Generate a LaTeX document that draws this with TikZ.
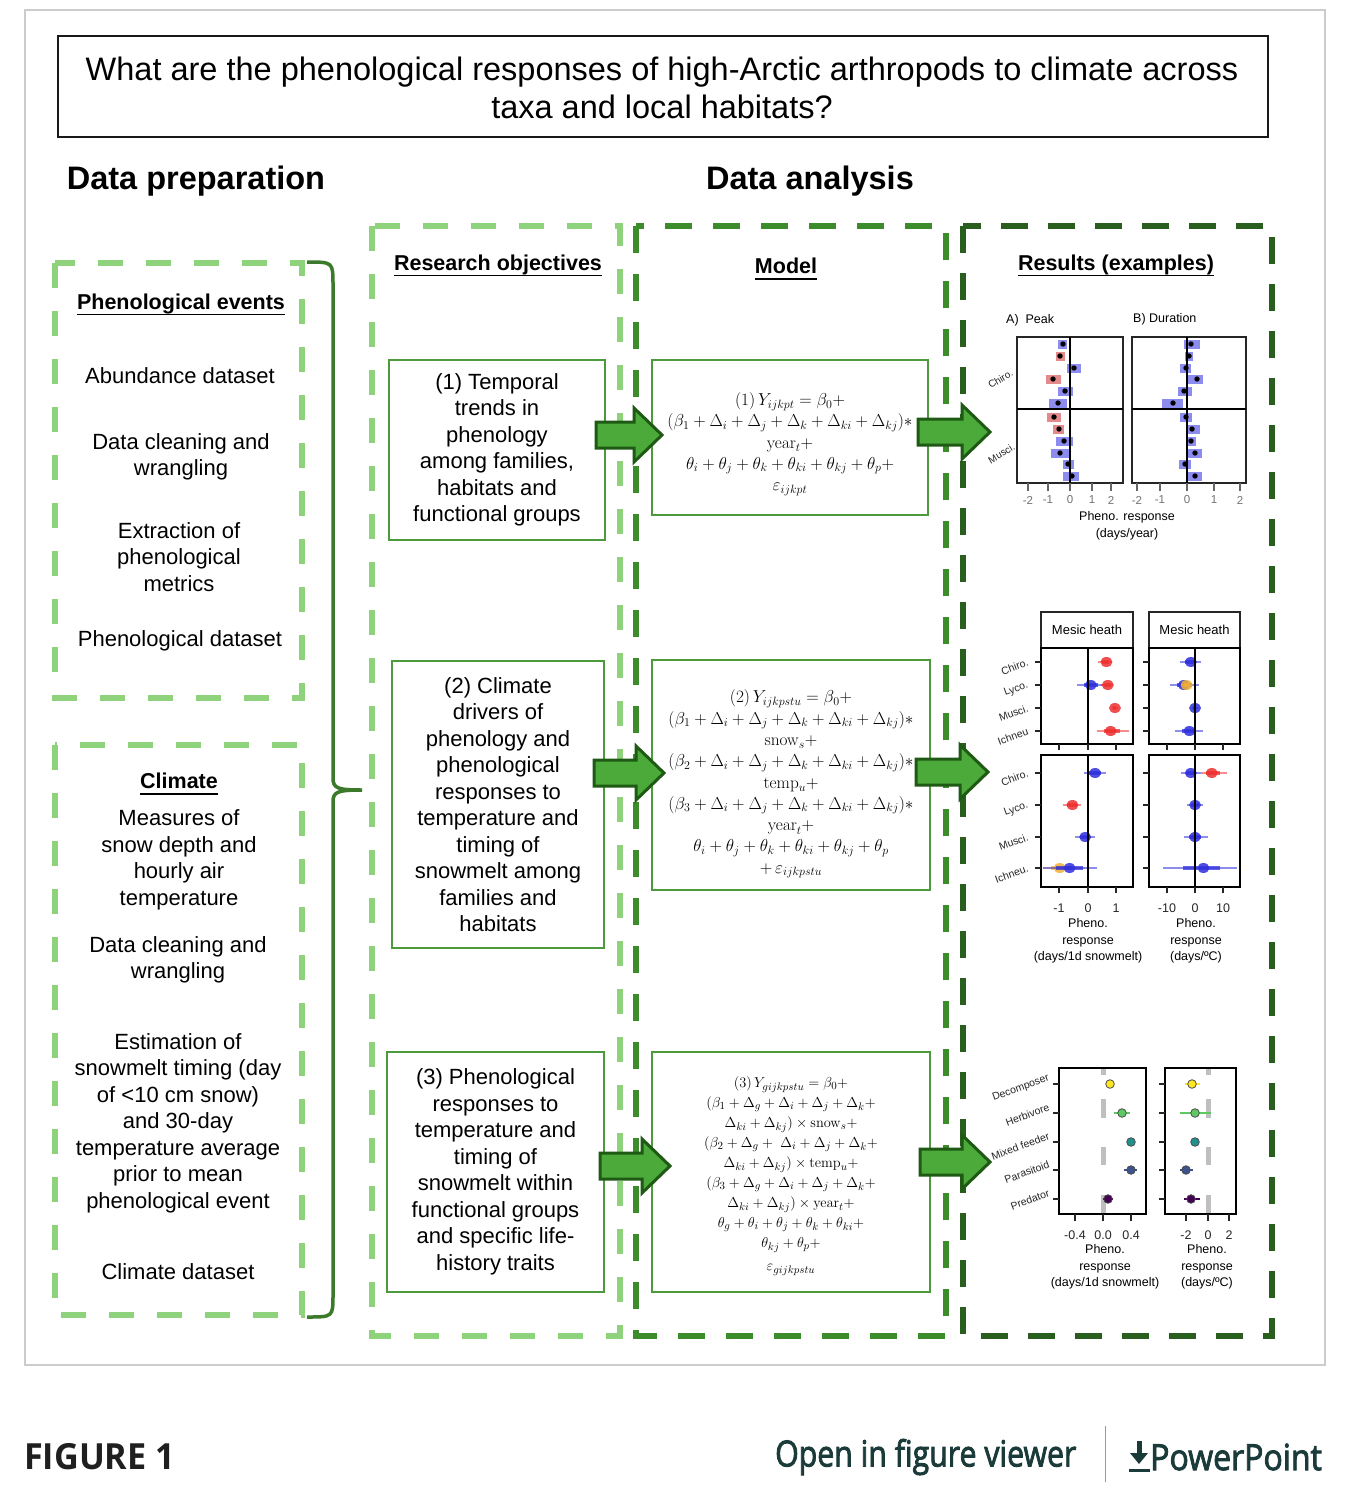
\documentclass[tikz,border=0pt]{standalone}
\usepackage[no-math]{fontspec}
\usepackage{graphicx}
\setmainfont{Liberation Sans}
\newfontfamily\osans{Open Sans}
\newfontfamily\osemi{Open Sans}[FakeBold=2.5]
\usetikzlibrary{calc}
\definecolor{lgreen}{HTML}{8ED37C}
\definecolor{mgreen}{HTML}{3C8C2C}
\definecolor{dgreen}{HTML}{2A5E1E}
\definecolor{boxgreen}{HTML}{4C9A3C}
\definecolor{bracegreen}{HTML}{3A7A2A}
\definecolor{arrowfill}{HTML}{4CAA3A}
\definecolor{arrowdraw}{HTML}{1E5A14}
\definecolor{abarblue}{HTML}{8C8CEE}
\definecolor{abarred}{HTML}{E58A8A}
\definecolor{mred}{HTML}{EE3030}
\definecolor{mblue}{HTML}{3030DD}
\definecolor{morange}{HTML}{F2B134}
\definecolor{vyel}{HTML}{FDE725}
\definecolor{vlgr}{HTML}{5EC962}
\definecolor{vteal}{HTML}{21918C}
\definecolor{vslate}{HTML}{3B528B}
\definecolor{vpurp}{HTML}{440154}
\definecolor{figtext}{HTML}{1B3A3A}
\newcommand\ulnode[1]{\draw[line width=1.8pt] ($(#1.base west)+(0,5)$) -- ($(#1.base east)+(0,5)$);}
\newcommand\blockarrow[2]{%
 \draw[bigarrow] let \p1=(#1), \p2=(#2) in
  (\x1,\y1+13pt) -- (\x2-28pt,\y1+13pt) -- (\x2-28pt,\y1+27pt) -- (\x2,\y1) --
  (\x2-28pt,\y1-27pt) -- (\x2-28pt,\y1-13pt) -- (\x1,\y1-13pt) -- cycle;}
\newcommand\abar[5]{%
 \fill[#5] (#3,#1-4.5) rectangle (#4,#1+4.5);
 \fill[black] (#2,#1) circle (2.7);}
\newcommand\mpt[7]{%
 \draw[#7, opacity=.55, line width=1.4pt] ({#2+#3*(#5)},#1) -- ({#2+#3*(#6)},#1);
 \draw[#7, opacity=.75, line width=4pt] ({#2+#3*((#4)+(#5))/2},#1) -- ({#2+#3*((#4)+(#6))/2},#1);
 \fill[#7, opacity=.85] ({#2+#3*(#4)},#1) ellipse [x radius=6, y radius=5];}
\newcommand\vpt[5]{%
 \draw[#5, line width=1.6pt] (#3,#1) -- (#4,#1);
 \filldraw[fill=#5, draw=black!70, line width=0.8pt] (#2,#1) circle (4.3);}
\begin{document}
\begin{tikzpicture}[x=1pt,y=-1pt,
  txt/.style={font=\fontsize{22}{26.5}\selectfont, align=center, inner sep=0pt},
  hdr/.style={font=\bfseries\fontsize{21.5}{26}\selectfont, inner sep=0pt},
  big/.style={font=\bfseries\fontsize{32.5}{36}\selectfont, inner sep=0pt},
  objbox/.style={draw=boxgreen, line width=2.5pt, align=center, font=\fontsize{22}{26.5}\selectfont, inner sep=0pt},
  modbox/.style={draw=boxgreen, line width=2.5pt, inner sep=0pt},
  modtxt/.style={font=\fontsize{16.4}{21.3}\selectfont, align=center, inner sep=0pt},
  col1/.style={draw=lgreen, line width=5.5pt, dash pattern=on 25pt off 23pt},
  col2/.style={draw=mgreen, line width=6pt, dash pattern=on 27pt off 21pt},
  col3/.style={draw=dgreen, line width=6.5pt, dash pattern=on 27pt off 20pt},
  bigarrow/.style={fill=arrowfill, draw=arrowdraw, line width=3pt, line join=miter},
  brace/.style={draw=bracegreen, line width=3.5pt},
  pframe/.style={draw=black!85, line width=1.3pt},
  pframeb/.style={draw=black, line width=2pt},
  zline/.style={line width=2.2pt, black},
  tk/.style={line width=1.4pt, black!85},
  tkl/.style={font=\fontsize{11.5}{13}\selectfont, inner sep=0pt, text=black!80},
  ptxt/.style={font=\fontsize{12.5}{16.5}\selectfont, inner sep=0pt, align=center},
  rlab/.style={font=\fontsize{10.5}{12}\selectfont, inner sep=0pt, rotate=20, anchor=east, text=black!85},
]
\useasboundingbox (0,0) rectangle (1370,1488);
\fill[white] (0,0) rectangle (1370,1488);
\draw[black!20, line width=1.5pt] (25,10) rectangle (1325,1365);

% title
\node[draw=black!90, line width=2pt, minimum width=1210pt, minimum height=100pt, inner sep=0pt] (title) at (663,86.5) {};
\node[font=\fontsize{32.5}{38}\selectfont, align=center, inner sep=0pt] (titletxt) at (662,88) {What are the phenological responses of high-Arctic arthropods to climate across\\taxa and local habitats?};

\node[big] (dprep) at (196,181) {Data preparation};
\node[big] (dana) at (810,181) {Data analysis};

% dashed frames
\draw[col1] (55,263) rectangle (302,698);
\draw[col1] (55,745) rectangle (302,1315);
\draw[col1] (372,226) rectangle (620,1336);
\draw[col2] (636,226) rectangle (946,1336);
\draw[col3] (963,226) rectangle (1272,1336);

% brace
\draw[brace] (307,262) .. controls (333,262) .. (333,285) -- (333,778)
  .. controls (333,788) and (337,790) .. (362,790)
  .. controls (337,790) and (333,792) .. (333,802) -- (333,1295)
  .. controls (333,1317) .. (307,1317);

% left texts
\node[hdr] (hPhen) at (181,304) {Phenological events};
\ulnode{hPhen}
\node[txt] (abund) at (180,376) {Abundance dataset};
\node[txt] (clean1) at (181,457) {Data cleaning and\\wrangling};
\node[txt] (extr) at (179,557) {Extraction of\\phenological\\metrics};
\node[txt] (phends) at (180,641) {Phenological dataset};
\node[hdr] (hClim) at (179,781) {Climate};
\ulnode{hClim}
\node[txt] (meas) at (179,860) {Measures of\\snow depth and\\hourly air\\temperature};
\node[txt] (clean2) at (178,960) {Data cleaning and\\wrangling};
\node[txt] (estim) at (178,1123) {Estimation of\\snowmelt timing (day\\of <10 cm snow)\\and 30-day\\temperature average\\prior to mean\\phenological event};
\node[txt] (climds) at (178,1272) {Climate dataset};

% column headers
\node[hdr] (hRes) at (498,265) {Research objectives};
\ulnode{hRes}
\node[hdr] (hMod) at (786,266) {Model};
\ulnode{hMod}
\node[hdr] (hRslt) at (1116,265) {Results (examples)};
\ulnode{hRslt}

% objectives
\node[objbox, minimum width=216pt, minimum height=180pt] (obj1) at (497,450) {(1) Temporal\\trends in\\phenology\\among families,\\habitats and\\functional groups};
\node[objbox, minimum width=212pt, minimum height=287pt] (obj2) at (498,804.5) {(2) Climate\\drivers of\\phenology and\\phenological\\responses to\\temperature and\\timing of\\snowmelt among\\families and\\habitats};
\node[objbox, minimum width=217pt, minimum height=240pt] (obj3) at (495.5,1172) {(3) Phenological\\responses to\\temperature and\\timing of\\snowmelt within\\functional groups\\and specific life-\\history traits};

% models
\node[modbox, minimum width=276pt, minimum height=155pt] (mod1) at (790,437.5) {};
\node[modtxt] (eq1) at (790,444) {$(1)\,Y_{ijkpt} = \beta_0 +$\\
$(\beta_1+\Delta_i+\Delta_j+\Delta_k+\Delta_{ki}+\Delta_{kj})\ast$\\
$\mathrm{year}_t +$\\
$\theta_i+\theta_j+\theta_k+\theta_{ki}+\theta_{kj}+\theta_p+$\\
$\varepsilon_{ijkpt}$};
\node[modbox, minimum width=278pt, minimum height=230pt] (mod2) at (791,775) {};
\node[modtxt] (eq2) at (791,784) {$(2)\,Y_{ijkpstu} = \beta_0 +$\\
$(\beta_1+\Delta_i+\Delta_j+\Delta_k+\Delta_{ki}+\Delta_{kj})\ast$\\
$\mathrm{snow}_s +$\\
$(\beta_2+\Delta_i+\Delta_j+\Delta_k+\Delta_{ki}+\Delta_{kj})\ast$\\
$\mathrm{temp}_u +$\\
$(\beta_3+\Delta_i+\Delta_j+\Delta_k+\Delta_{ki}+\Delta_{kj})\ast$\\
$\mathrm{year}_t +$\\
$\theta_i+\theta_j+\theta_k+\theta_{ki}+\theta_{kj}+\theta_p$\\
$+\,\varepsilon_{ijkpstu}$};
\node[modbox, minimum width=278pt, minimum height=240pt] (mod3) at (791,1172) {};
\node[modtxt, font=\fontsize{15.4}{20}\selectfont] (eq3) at (791,1176) {$(3)\,Y_{gijkpstu}=\beta_0+$\\
$(\beta_1+\Delta_g+\Delta_i+\Delta_j+\Delta_k+$\\
$\Delta_{ki}+\Delta_{kj})\times\mathrm{snow}_s+$\\
$(\beta_2+\Delta_g+\ \Delta_i+\Delta_j+\Delta_k+$\\
$\Delta_{ki}+\Delta_{kj})\times\mathrm{temp}_u+$\\
$(\beta_3+\Delta_g+\Delta_i+\Delta_j+\Delta_k+$\\
$\Delta_{ki}+\Delta_{kj})\times\mathrm{year}_t+$\\
$\theta_g+\theta_i+\theta_j+\theta_k+\theta_{ki}+$\\
$\theta_{kj}+\theta_p+$\\[3pt]
$\varepsilon_{gijkpstu}$};

% ---------- Results plot A ----------
\node[ptxt, anchor=west] (lblA) at (1006,320) {A)\ \ Peak};
\node[ptxt, anchor=west] (lblB) at (1133,319) {B) Duration};
\draw[pframe] (1017,337) rectangle (1123,483);
\draw[pframe] (1132,337) rectangle (1246,483);
\abar{344}{1063}{1058}{1067}{abarblue}
\abar{356}{1060}{1056}{1065}{abarred}
\abar{368}{1074}{1067}{1081}{abarblue}
\abar{379}{1053}{1046}{1061}{abarred}
\abar{391}{1065}{1058}{1073}{abarblue}
\abar{403}{1058}{1049}{1067}{abarblue}
\abar{417}{1054}{1047}{1061}{abarred}
\abar{429}{1059}{1053}{1064}{abarred}
\abar{441}{1064}{1056}{1073}{abarblue}
\abar{453}{1060}{1051}{1069}{abarblue}
\abar{464}{1068}{1063}{1074}{abarblue}
\abar{476}{1072}{1063}{1079}{abarblue}
\abar{344}{1191}{1184}{1200}{abarblue}
\abar{356}{1189}{1185}{1193}{abarblue}
\abar{368}{1186}{1180}{1191}{abarblue}
\abar{379}{1197}{1188}{1203}{abarblue}
\abar{391}{1184}{1178}{1192}{abarblue}
\abar{403}{1173}{1162}{1183}{abarblue}
\abar{417}{1186}{1180}{1192}{abarblue}
\abar{429}{1192}{1187}{1200}{abarblue}
\abar{441}{1191}{1186}{1196}{abarblue}
\abar{453}{1195}{1187}{1202}{abarblue}
\abar{464}{1185}{1179}{1191}{abarblue}
\abar{476}{1195}{1187}{1202}{abarblue}
\draw[line width=1.6pt] (1017,409) -- (1123,409);
\draw[line width=1.6pt] (1132,409) -- (1246,409);
\draw[zline] (1070,337) -- (1070,483);
\draw[zline] (1187,337) -- (1187,483);
\foreach \x/\l [count=\i] in {1028/-2,1048/-1,1070/0,1092/1,1111/2}{
  \draw[tk, black!60] (\x,483) -- (\x,491);
  \node[tkl, text=black!55] (tA\i) at (\x,500) {\l};}
\foreach \x/\l [count=\i] in {1137/-2,1160/-1,1187/0,1214/1,1240/2}{
  \draw[tk, black!60] (\x,483) -- (\x,491);
  \node[tkl, text=black!55] (tB\i) at (\x,500) {\l};}
\node[rlab, font=\fontsize{10}{12}\selectfont, rotate=11] (aChiro) at (1012,372) {Chiro.};
\node[rlab, font=\fontsize{10}{12}\selectfont, rotate=11] (aMusci) at (1014,446) {Musci.};
\node[ptxt] (axA) at (1127,526) {Pheno. response\\(days/year)};

% ---------- Results plot 2 ----------
\draw[pframe] (1041,612) rectangle (1133,648);
\draw[pframe] (1149,612) rectangle (1240,648);
\node[ptxt, font=\fontsize{13}{15}\selectfont] (mh1) at (1087,630) {Mesic heath};
\node[ptxt, font=\fontsize{13}{15}\selectfont] (mh2) at (1194.5,630) {Mesic heath};
% top left
\mpt{662}{1088}{28.3}{0.65}{0.35}{0.85}{mred}
\mpt{685}{1088}{28.3}{0.1}{-0.4}{0.6}{mblue}
\mpt{685}{1088}{28.3}{0.7}{0.45}{0.9}{mred}
\mpt{708}{1088}{28.3}{0.95}{0.85}{1.05}{mred}
\mpt{731}{1088}{28.3}{0.8}{0.3}{1.45}{mred}
% top right
\mpt{662}{1195}{2.8}{-1.5}{-5.5}{2}{mblue}
\mpt{685}{1195}{2.8}{-4}{-9}{1.5}{mblue}
\mpt{685}{1195}{2.8}{-3}{-5}{-1}{morange}
\mpt{708}{1195}{2.8}{0}{-1.2}{1}{mblue}
\mpt{731}{1195}{2.8}{-2}{-7}{3}{mblue}
% bottom left
\mpt{773}{1088}{28.3}{0.25}{-0.15}{0.65}{mblue}
\mpt{805}{1088}{28.3}{-0.55}{-0.9}{-0.25}{mred}
\mpt{837}{1088}{28.3}{-0.1}{-0.45}{0.25}{mblue}
\mpt{868}{1088}{28.3}{-1}{-1.6}{-0.1}{morange}
\mpt{868}{1088}{28.3}{-0.65}{-1.6}{0.3}{mblue}
% bottom right
\mpt{773}{1195}{2.8}{-1.5}{-5}{2}{mblue}
\mpt{773}{1195}{2.8}{6}{2}{11.5}{mred}
\mpt{805}{1195}{2.8}{0}{-3}{3}{mblue}
\mpt{837}{1195}{2.8}{0}{-4}{4.5}{mblue}
\mpt{868}{1195}{2.8}{3}{-11.5}{15}{mblue}
\draw[pframeb] (1041,648) rectangle (1133,744);
\draw[pframeb] (1149,648) rectangle (1240,744);
\draw[pframeb] (1041,755) rectangle (1133,887);
\draw[pframeb] (1149,755) rectangle (1240,887);
\draw[zline] (1088,648) -- (1088,744);
\draw[zline] (1195,648) -- (1195,744);
\draw[zline] (1088,755) -- (1088,887);
\draw[zline] (1195,755) -- (1195,887);
\foreach \y in {662,685,708,731,773,805,837,868}{
  \draw[tk] (1035,\y) -- (1041,\y);
  \draw[tk] (1143,\y) -- (1149,\y);}
\foreach \x in {1059,1088,1116,1167,1195,1223}{
  \draw[tk] (\x,744) -- (\x,750);
  \draw[tk] (\x,887) -- (\x,893);}
\foreach \x/\l [count=\i] in {1059/-1,1088/0,1116/1,1167/-10,1195/0,1223/10}{
  \node[tkl, font=\fontsize{12.5}{14}\selectfont, text=black!85] (tM\i) at (\x,908) {\l};}
\foreach \y/\l [count=\i] in {662/Chiro.,685/Lyco.,708/Musci.,731/Ichneu,773/Chiro.,805/Lyco.,837/Musci.,868/Ichneu.}{
  \node[rlab] (mL\i) at (1028,\y) {\l};}
\node[ptxt] (axM1) at (1088,941) {Pheno.\\response\\(days/1d snowmelt)};
\node[ptxt] (axM2) at (1196,941) {Pheno.\\response\\(days/ºC)};

% ---------- Results plot 3 ----------
\foreach \x in {1103,1208}{
  \draw[line width=5pt, black!25] (\x,1068) -- (\x,1075);
  \draw[line width=5pt, black!25] (\x,1099) -- (\x,1118);
  \draw[line width=5pt, black!25] (\x,1147) -- (\x,1165);
  \draw[line width=5pt, black!25] (\x,1195) -- (\x,1214);}
\vpt{1084}{1110}{1106}{1114}{vyel}
\vpt{1113}{1122}{1114}{1130}{vlgr}
\vpt{1142}{1131}{1128}{1134}{vteal}
\vpt{1170}{1131}{1124}{1137}{vslate}
\vpt{1199}{1108}{1103}{1113}{vpurp}
\vpt{1084}{1192}{1185}{1200}{vyel}
\vpt{1113}{1195}{1180}{1211}{vlgr}
\vpt{1142}{1195}{1191}{1199}{vteal}
\vpt{1170}{1186}{1180}{1193}{vslate}
\vpt{1199}{1191}{1184}{1200}{vpurp}
\draw[line width=2.5pt] (1059,1068) rectangle (1146,1214);
\draw[line width=2.5pt] (1165,1068) rectangle (1236,1214);
\foreach \y in {1084,1113,1142,1170,1199}{
  \draw[tk] (1053,\y) -- (1059,\y);
  \draw[tk] (1159,\y) -- (1165,\y);}
\foreach \x/\l [count=\i] in {1075/-0.4,1103/0.0,1131/0.4,1186/-2,1208/0,1229/2}{
  \draw[tk] (\x,1214) -- (\x,1221);
  \node[tkl, font=\fontsize{12.5}{14}\selectfont, text=black!85] (tV\i) at (\x,1235) {\l};}
\foreach \y/\l [count=\i] in {1084/Decomposer,1113/Herbivore,1142/Mixed feeder,1170/Parasitoid,1199/Predator}{
  \node[rlab] (vL\i) at (1049,\y-6) {\l};}
\node[ptxt] (axV1) at (1105,1267) {Pheno.\\response\\(days/1d snowmelt)};
\node[ptxt] (axV2) at (1207,1267) {Pheno.\\response\\(days/ºC)};

% ---------- block arrows ----------
\coordinate (a1s) at (596,435); \coordinate (a1e) at (662,435);
\coordinate (a2s) at (918,432); \coordinate (a2e) at (990,432);
\coordinate (a3s) at (594,773); \coordinate (a3e) at (664,773);
\coordinate (a4s) at (916,772); \coordinate (a4e) at (988,772);
\coordinate (a5s) at (600,1166); \coordinate (a5e) at (670,1166);
\coordinate (a6s) at (920,1162); \coordinate (a6e) at (990,1162);
\blockarrow{a1s}{a1e}
\blockarrow{a2s}{a2e}
\blockarrow{a3s}{a3e}
\blockarrow{a4s}{a4e}
\blockarrow{a5s}{a5e}
\blockarrow{a6s}{a6e}

% ---------- footer ----------
\node[font=\osans\bfseries\fontsize{36}{40}\selectfont, inner sep=0pt, anchor=west, text=black!88] (fig) at (24,1457) {\scalebox{0.95}[1]{FIGURE 1}};
\node[font=\osemi\fontsize{36}{40}\selectfont, inner sep=0pt, anchor=west, text=figtext] (viewer) at (775,1457) {\scalebox{0.84}[1]{Open in figure viewer}};
\draw[black!40, line width=1pt] (1105,1426) -- (1105,1482);
\fill[figtext] (1136.5,1441) rectangle (1141.5,1455);
\fill[figtext] (1130,1453) -- (1148,1453) -- (1139,1464) -- cycle;
\draw[figtext, line width=3pt] (1129,1470) -- (1150,1470);
\node[font=\osemi\fontsize{36}{40}\selectfont, inner sep=0pt, anchor=west, text=figtext] (ppt) at (1150,1457) {\scalebox{0.89}[1]{PowerPoint}};
\end{tikzpicture}
\end{document}
